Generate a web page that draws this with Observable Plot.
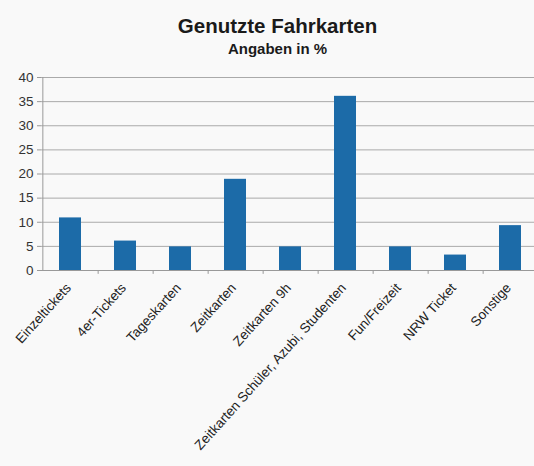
<!DOCTYPE html>
<html>
<head>
<meta charset="utf-8">
<script src="https://cdn.jsdelivr.net/npm/d3@7"></script>
<script src="https://cdn.jsdelivr.net/npm/@observablehq/plot@0.6"></script>
<style>
  html, body { margin: 0; padding: 0; background: #f9f9f9; overflow: hidden; }
  #wrap { width: 534px; height: 466px; background: #f9f9f9; font-family: "Liberation Sans", Arial, sans-serif; }
  #head { height: 65px; padding-left: 21px; box-sizing: border-box; text-align: center; color: #1a1a1a; }
  #title { padding-top: 14px; font-size: 20.5px; line-height: 24px; font-weight: bold; }
  #subtitle { margin-top: 2px; font-size: 15px; line-height: 18px; font-weight: bold; }
</style>
</head>
<body>
<div id="wrap">
  <div id="head">
    <div id="title">Genutzte Fahrkarten</div>
    <div id="subtitle">Angaben in %</div>
  </div>
  <div id="chart"></div>
</div>
<script>
const categories = ["Einzeltickets", "4er-Tickets", "Tageskarten", "Zeitkarten", "Zeitkarten 9h", "Zeitkarten Schüler, Azubi, Studenten", "Fun/Freizeit", "NRW Ticket", "Sonstige"];
const values = [10.9, 6.1, 4.9, 18.9, 4.9, 36.1, 4.9, 3.2, 9.3];
const yTicks = [0, 5, 10, 15, 20, 25, 30, 35, 40];

const data = categories.map((c, i) => ({category: c, value: values[i]}));

const chart = Plot.plot({
  width: 534,
  height: 401,
  marginTop: 12,
  marginBottom: 196,
  marginLeft: 41,
  marginRight: 0,
  style: {background: "transparent", fontFamily: "Liberation Sans, Arial, sans-serif", fontSize: "13px", color: "#333", overflow: "hidden"},
  x: {domain: categories, range: [41.4, 539], paddingInner: 0.6, paddingOuter: 0.3, align: 0.5},
  y: {domain: [0, 40], ticks: yTicks},
  marks: [
    Plot.gridY(yTicks, {stroke: "#aaa", strokeOpacity: 1, strokeWidth: 1}),
    Plot.ruleX(categories, {x: d => d, dx: 27.65, y1: 0, y2: -0.8, stroke: "#999"}),
    Plot.barY(data, {x: "category", y: "value", fill: "#1c6ba8"}),
    Plot.ruleX([0], {x: () => categories[0], dx: -27.65, y1: 0, y2: 40, stroke: "#999"}),
    Plot.ruleY([0], {stroke: "#999"}),
    Plot.axisY(yTicks, {anchor: "left", tickSize: 4, tickPadding: 4, stroke: "#999", fill: "#333", fontSize: 13.5, label: null}),
    Plot.axisX({anchor: "bottom", tickSize: 0, tickRotate: -48, tickPadding: 7, dx: -2, dy: 8, fill: "#222", fontSize: 13.5, label: null})
  ]
});
document.getElementById("chart").appendChild(chart);
</script>
</body>
</html>
